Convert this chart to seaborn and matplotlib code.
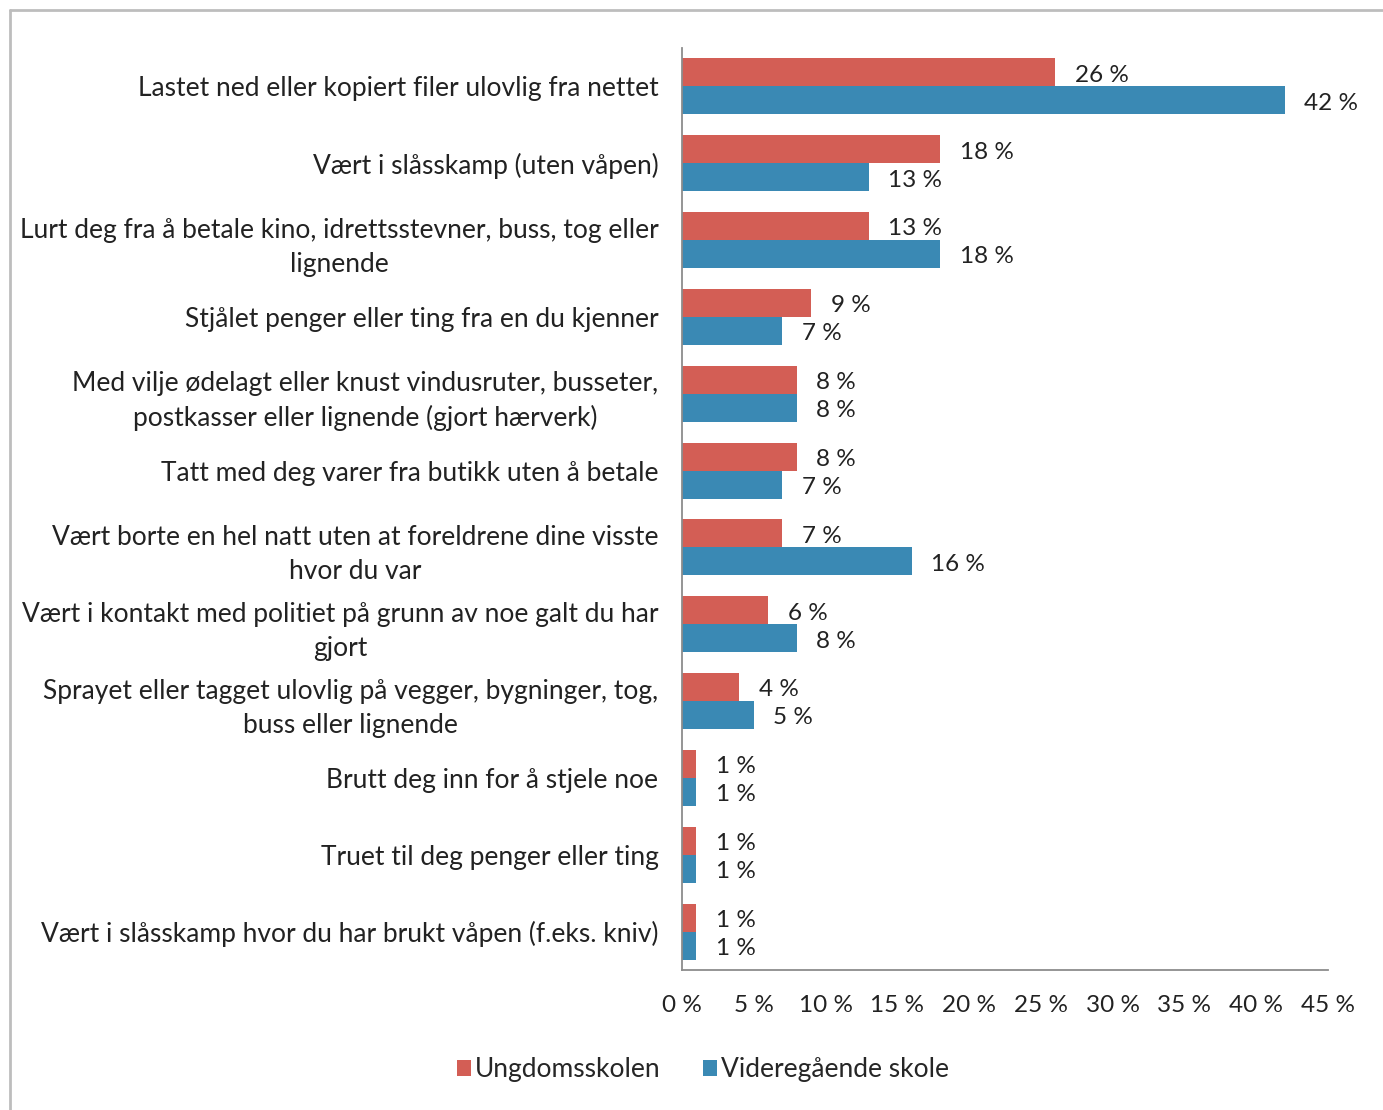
import matplotlib
matplotlib.use("Agg")
import matplotlib.pyplot as plt
from matplotlib.lines import Line2D
from matplotlib.patches import Patch
import seaborn as sns
import pandas as pd

categories = [
    "Lastet ned eller kopiert filer ulovlig fra nettet",
    "Vært i slåsskamp (uten våpen)",
    "Lurt deg fra å betale kino, idrettsstevner, buss, tog eller\nlignende",
    "Stjålet penger eller ting fra en du kjenner",
    "Med vilje ødelagt eller knust vindusruter, busseter,\npostkasser eller lignende (gjort hærverk)",
    "Tatt med deg varer fra butikk uten å betale",
    "Vært borte en hel natt uten at foreldrene dine visste\nhvor du var",
    "Vært i kontakt med politiet på grunn av noe galt du har\ngjort",
    "Sprayet eller tagget ulovlig på vegger, bygninger, tog,\nbuss eller lignende",
    "Brutt deg inn for å stjele noe",
    "Truet til deg penger eller ting",
    "Vært i slåsskamp hvor du har brukt våpen (f.eks. kniv)",
]
ungdomsskolen = [26, 18, 13, 9, 8, 8, 7, 6, 4, 1, 1, 1]
videregaende = [42, 13, 18, 7, 8, 7, 16, 8, 5, 1, 1, 1]
series_names = ["Ungdomsskolen", "Videregående skole"]
x_ticks = [0, 5, 10, 15, 20, 25, 30, 35, 40, 45]

colors = ["#D35E55", "#3A89B4"]

df = pd.DataFrame({
    "kategori": categories * 2,
    "andel": ungdomsskolen + videregaende,
    "skole": [series_names[0]] * len(categories) + [series_names[1]] * len(categories),
})

sns.set_theme(style="white")
plt.rcParams["font.family"] = ["Lato", "DejaVu Sans"]

fig = plt.figure(figsize=(13.83, 11.10), dpi=100)
ax = fig.add_axes([682 / 1383, 1 - 970 / 1110, (1328 - 682) / 1383, (970 - 48) / 1110])

sns.barplot(data=df, y="kategori", x="andel", hue="skole", palette=colors,
            orient="h", width=0.73, dodge=True, ax=ax, legend=False,
            saturation=1, linewidth=0)

ax.set_xlim(0, 45)
ax.set_xticks(x_ticks)
ax.set_xticklabels([f"{t} %" for t in x_ticks], fontsize=17.5, color="#222222")
ax.tick_params(axis="x", pad=18, length=0)
ax.tick_params(axis="y", pad=17, length=0)
ax.set_xlabel("")
ax.set_ylabel("")
for lab in ax.get_yticklabels():
    lab.set_fontsize(19)
    lab.set_multialignment("center")
    lab.set_linespacing(1.45)
    lab.set_color("#222222")

for side in ["top", "right"]:
    ax.spines[side].set_visible(False)
for side in ["left", "bottom"]:
    ax.spines[side].set_color("#8C8C8C")
    ax.spines[side].set_linewidth(1.3)

# value labels next to each bar
for container in ax.containers:
    for bar in container:
        w = bar.get_width()
        cy = bar.get_y() + bar.get_height() / 2
        ax.annotate(f"{w:.0f} %", xy=(w, cy), xytext=(14, -2), textcoords="offset points",
                    ha="left", va="center", fontsize=17.5, color="#222222")

handles = [Patch(facecolor=c, edgecolor="none") for c in colors]
fig.legend(handles, series_names, loc="center", bbox_to_anchor=(703 / 1383, 1 - 1070 / 1110),
           ncol=2, frameon=False, fontsize=19, handlelength=0.55, handleheight=0.55,
           handletextpad=0.15, columnspacing=1.6)

# outer frame
fig.add_artist(Line2D([10 / 1383, 1.0], [1 - 10 / 1110, 1 - 10 / 1110],
                      transform=fig.transFigure, color="#BDBDBD", linewidth=2))
fig.add_artist(Line2D([10 / 1383, 10 / 1383], [0.0, 1 - 10 / 1110],
                      transform=fig.transFigure, color="#BDBDBD", linewidth=2))

fig.savefig("out.png", dpi=100, facecolor="white")
